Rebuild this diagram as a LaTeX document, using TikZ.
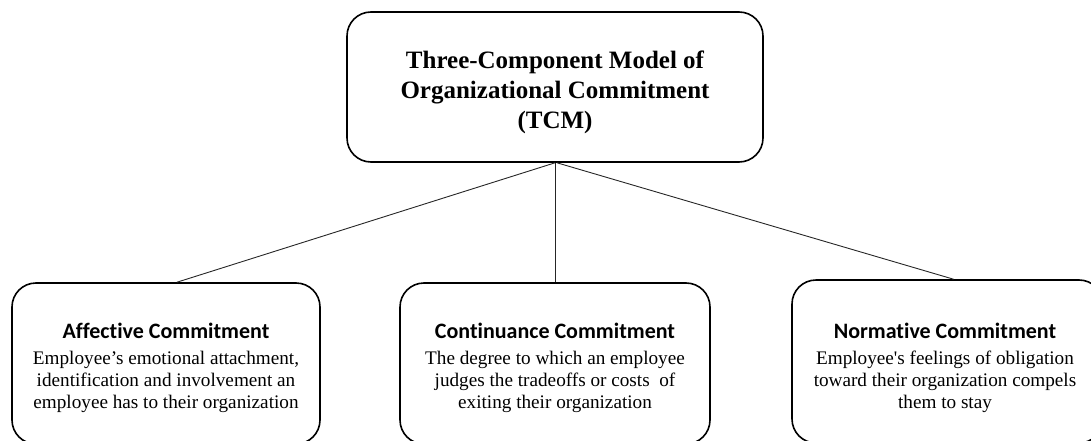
\documentclass[tikz,border=0pt]{standalone}
\usepackage{fontspec}
\setmainfont{Liberation Serif}
\newfontfamily\rawserif{Liberation Serif}
\newfontfamily\headfont{Carlito}[Ligatures={NoCommon}]
\newcommand{\sq}{{\rawserif'}}
\begin{document}
\begin{tikzpicture}[x=1pt,y=-1pt,
  box/.style={draw=black, line width=1.6pt, rounded corners=24pt, fill=white, inner sep=0pt},
  link/.style={draw=black!85, line width=0.9pt},
  toptext/.style={align=center, font=\fontsize{25}{30}\selectfont\bfseries, inner sep=0pt},
  bodytext/.style={align=center, font=\fontsize{19.2}{22}\selectfont, inner sep=0pt},
  headline/.style={font=\headfont\bfseries\fontsize{22}{22}\selectfont}]
\useasboundingbox (0,0) rectangle (1091,441);
% central concept
\node[box, minimum width=416pt, minimum height=150pt] (tcm) at (555,87) {};
\node[toptext] (tcmtext) at (555,92) {Three-Component Model of\\Organizational Commitment\\(TCM)};
% the three components
\node[box, minimum width=308pt, minimum height=161pt] (aff) at (166,363.5) {};
\node[box, minimum width=310pt, minimum height=161pt] (con) at (555,363.5) {};
\node[box, minimum width=311pt, minimum height=163pt] (nor) at (947.5,361.5) {};
% connectors
\draw[link] (tcm.south) -- ([xshift=11pt]aff.north);
\draw[link] (tcm.south) -- (con.north);
\draw[link] ([xshift=2pt]tcm.south) -- ([xshift=6pt]nor.north);
% component descriptions
\node[bodytext] (afftext) at (166,367.5) {{\headfont\bfseries\fontsize{22}{22}\selectfont Affective Commitment}\\[4pt]
  Employee’s emotional attachment,\\identification and involvement an\\employee has to their organization};
\node[bodytext] (context) at (555,367.5) {{\headfont\bfseries\fontsize{22}{22}\selectfont Continuance Commitment}\\[4pt]
  The degree to which an employee\\judges the tradeoffs or costs~ of\\exiting their organization};
\node[bodytext] (nortext) at (945,367.5) {{\headfont\bfseries\fontsize{22}{22}\selectfont Normative Commitment}\\[4pt]
  Employee\sq s feelings of obligation\\toward their organization compels\\them to stay};
\end{tikzpicture}
\end{document}
